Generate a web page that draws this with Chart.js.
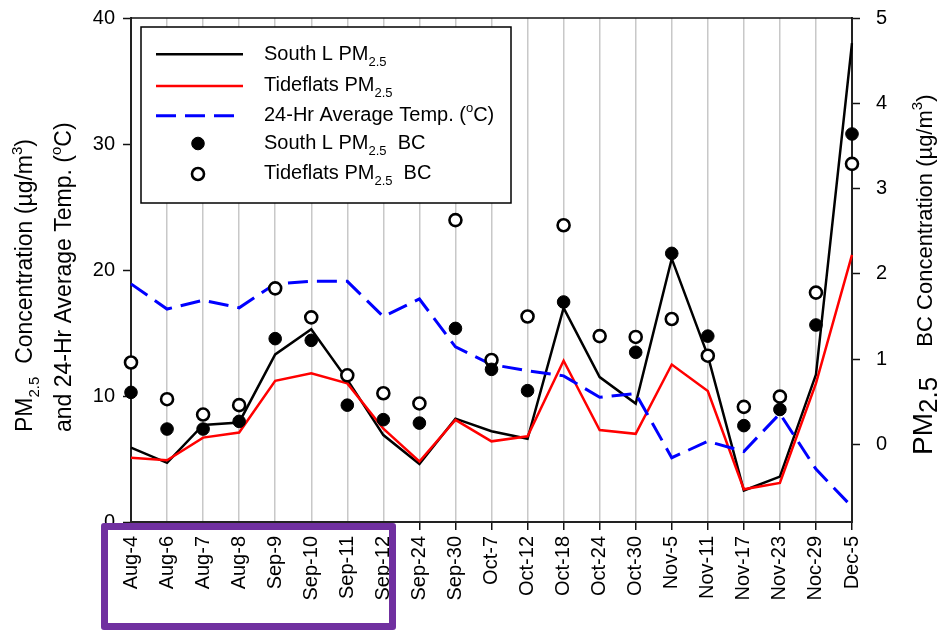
<!DOCTYPE html>
<html><head><meta charset="utf-8">
<script src="https://cdn.jsdelivr.net/npm/chart.js@4/dist/chart.umd.min.js"></script>
<style>
html,body{margin:0;padding:0;background:#fff;}
#wrap{position:relative;width:939px;height:631px;overflow:hidden;background:#fff;}
#hl{position:absolute;left:101px;top:523px;width:295px;height:107px;border:7px solid #7030a0;box-sizing:border-box;border-radius:3px;pointer-events:none;}
</style></head><body>
<div id="wrap"><canvas id="c" width="939" height="631"></canvas><div id="hl"></div></div>
<script>
// ---- data ----
const categories = ['Aug-4','Aug-6','Aug-7','Aug-8','Sep-9','Sep-10','Sep-11','Sep-12','Sep-24','Sep-30','Oct-7','Oct-12','Oct-18','Oct-24','Oct-30','Nov-5','Nov-11','Nov-17','Nov-23','Noc-29','Dec-5'];
const southLPM = [5.9, 4.7, 7.7, 7.9, 13.3, 15.3, 11.3, 6.9, 4.6, 8.2, 7.2, 6.6, 17.0, 11.5, 9.4, 20.9, 13.2, 2.5, 3.6, 11.7, 38.0];
const tideflatsPM = [5.1, 4.9, 6.7, 7.1, 11.2, 11.8, 11.0, 7.4, 4.8, 8.1, 6.4, 6.8, 12.8, 7.3, 7.0, 12.5, 10.4, 2.6, 3.1, 11.0, 21.2];
const avgTemp = [18.9, 16.9, 17.6, 17.0, 18.9, 19.1, 19.1, 16.3, 17.7, 13.9, 12.5, 12.0, 11.6, 9.9, 10.2, 5.1, 6.4, 5.6, 8.6, 4.2, 1.2];
const southLBC = [0.61, 0.18, 0.18, 0.27, 1.24, 1.22, 0.46, 0.29, 0.25, 1.36, 0.88, 0.63, 1.67, null, 1.08, 2.24, 1.27, 0.22, 0.41, 1.40, 3.64];
const tideflatsBC = [0.96, 0.53, 0.35, 0.46, 1.83, 1.49, 0.81, 0.60, 0.48, 2.63, 0.99, 1.50, 2.57, 1.27, 1.26, 1.47, 1.04, 0.44, 0.56, 1.78, 3.29];
const leftTicks = [0, 10, 20, 30, 40];
const rightTicks = [0, 1, 2, 3, 4, 5];
const seriesLabels = ['South L PM2.5', 'Tideflats PM2.5', '24-Hr Average Temp. (oC)', 'South L PM2.5  BC', 'Tideflats PM2.5  BC'];
const leftTitleLines = ['PM2.5  Concentration (µg/m3)', 'and 24-Hr Average Temp. (oC)'];
const rightTitle = 'PM2.5  BC Concentration (µg/m3)';

const FONT = '"Liberation Sans", Arial, Helvetica, sans-serif';

// rich text: PM2.5 -> subscript, (oC) and m3) -> superscript
function rich(text){
  const out=[]; const re=/PM2\.5|\(oC\)|m3\)/g; let last=0, m;
  while((m=re.exec(text))){
    if(m.index>last) out.push({t:text.slice(last,m.index)});
    if(m[0]==='PM2.5'){out.push({t:'PM',k:'pm'});out.push({t:'2.5',k:'sub'});}
    else if(m[0]==='(oC)'){out.push({t:'('});out.push({t:'o',k:'sup'});out.push({t:'C)'});}
    else {out.push({t:'m'});out.push({t:'3',k:'sup'});out.push({t:')'});}
    last=re.lastIndex;
  }
  if(last<text.length) out.push({t:text.slice(last)});
  return out;
}
function drawRich(ctx, text, x, y, o){
  let cx=x;
  for(const s of rich(text)){
    let fs=o.size, dy=0;
    if(s.k==='sub'){fs=o.subSize; dy=o.subDy;}
    else if(s.k==='sup'){fs=o.supSize; dy=o.supDy;}
    else if(s.k==='pm' && o.pmSize){fs=o.pmSize;}
    ctx.font = fs+'px '+FONT;
    ctx.fillText(s.t, cx, y+dy);
    cx += ctx.measureText(s.t).width;
    if(s.k==='sub' && o.subGap) cx += o.subGap;
  }
  return cx-x;
}

const decor = {
  id:'decor',
  afterDraw(chart){
    const ctx=chart.ctx, a=chart.chartArea;
    ctx.save();
    // top frame line
    ctx.strokeStyle='#111'; ctx.lineWidth=1.5;
    ctx.beginPath(); ctx.moveTo(a.left,a.top); ctx.lineTo(a.right,a.top); ctx.stroke();

    // legend box
    const bx=141, by=27, bw=370, bh=176;
    ctx.fillStyle='#fff'; ctx.fillRect(bx,by,bw,bh);
    ctx.strokeStyle='#000'; ctx.lineWidth=1.5; ctx.strokeRect(bx,by,bw,bh);
    const rowY=[54.3, 86, 115.7, 143.5, 174];
    const ds=chart.data.datasets;
    ds.forEach((d,i)=>{
      const y=rowY[i];
      if(d.showLine!==false){
        ctx.save();
        ctx.strokeStyle=d.borderColor; ctx.lineWidth=d.borderWidth;
        ctx.setLineDash(d.borderDash||[]);
        ctx.beginPath(); ctx.moveTo(156,y); ctx.lineTo(243,y); ctx.stroke();
        ctx.restore();
      } else {
        ctx.beginPath(); ctx.arc(198,y,d.pointRadius,0,Math.PI*2);
        ctx.fillStyle=d.pointBackgroundColor; ctx.fill();
        ctx.lineWidth=d.pointBorderWidth; ctx.strokeStyle=d.pointBorderColor; ctx.stroke();
      }
      ctx.fillStyle='#000'; ctx.textBaseline='alphabetic'; ctx.textAlign='left';
      drawRich(ctx, d.label, 264, y+5.3, {size:20, subSize:13, subDy:6, supSize:13, supDy:-9});
    });

    // left axis title (two lines, rotated)
    ctx.fillStyle='#000';
    const lx=[32, 71];
    leftTitleLines.forEach((t,i)=>{
      ctx.save(); ctx.translate(lx[i], 432); ctx.rotate(-Math.PI/2);
      drawRich(ctx, t, 0, 0, {size:23, subSize:15, subDy:7, supSize:15, supDy:-10});
      ctx.restore();
    });
    // right axis title
    ctx.save(); ctx.translate(931.5, 455); ctx.rotate(-Math.PI/2);
    drawRich(ctx, rightTitle, 0, 0, {size:22, pmSize:28, subSize:26, subDy:5, supSize:15, supDy:-10, subGap:18});
    ctx.restore();
    ctx.restore();
  }
};

const tickFont = {family: FONT, size: 20};
new Chart(document.getElementById('c'), {
  type:'line',
  data:{
    labels: categories,
    datasets:[
      {label:seriesLabels[0], data:southLPM, yAxisID:'y', borderColor:'#000', borderWidth:2.5, pointRadius:0, fill:false, tension:0, order:5},
      {label:seriesLabels[1], data:tideflatsPM, yAxisID:'y', borderColor:'#ff0000', borderWidth:2.5, pointRadius:0, fill:false, tension:0, order:4},
      {label:seriesLabels[2], data:avgTemp, yAxisID:'y', borderColor:'#0000ff', borderWidth:3, borderDash:[20,9], pointRadius:0, fill:false, tension:0, order:3},
      {label:seriesLabels[3], data:southLBC, yAxisID:'y2', showLine:false, pointRadius:6.3, pointBackgroundColor:'#000', pointBorderColor:'#000', pointBorderWidth:1, borderColor:'#000', order:1},
      {label:seriesLabels[4], data:tideflatsBC, yAxisID:'y2', showLine:false, pointRadius:6, pointBackgroundColor:'#fff', pointBorderColor:'#000', pointBorderWidth:2.6, borderColor:'#000', order:2}
    ]
  },
  options:{
    responsive:false, animation:false, devicePixelRatio:1,
    layout:{padding:{top:18,left:0,right:0,bottom:0}},
    plugins:{legend:{display:false}, tooltip:{enabled:false}, title:{display:false}},
    scales:{
      x:{
        offset:false,
        grid:{offset:false, color:'#c8c8c8', lineWidth:1.5, tickColor:'#111', tickLength:8, tickWidth:1.5},
        border:{color:'#222', width:2},
        ticks:{font:tickFont, color:'#000', minRotation:90, maxRotation:90, autoSkip:false, padding:6},
        afterFit(s){ s.height = 109; s.paddingLeft = 0; s.paddingRight = 0; }
      },
      y:{
        position:'left', min:0, max:40,
        grid:{drawOnChartArea:false, tickColor:'#111', tickLength:8, tickWidth:1.5},
        border:{color:'#222', width:2},
        ticks:{font:tickFont, color:'#000', padding:8},
        afterBuildTicks(s){ s.ticks = leftTicks.map(v=>({value:v})); },
        afterFit(s){ s.width = 131; s.paddingTop = 0; s.paddingBottom = 0; }
      },
      y2:{
        position:'right', min:-0.91, max:5,
        grid:{drawOnChartArea:false, tickColor:'#111', tickLength:8, tickWidth:1.5},
        border:{color:'#222', width:2},
        ticks:{font:tickFont, color:'#000', padding:16},
        afterBuildTicks(s){ s.ticks = rightTicks.map(v=>({value:v})); },
        afterFit(s){ s.width = 87; s.paddingTop = 0; s.paddingBottom = 0; }
      }
    }
  },
  plugins:[decor]
});
</script>
</body></html>
